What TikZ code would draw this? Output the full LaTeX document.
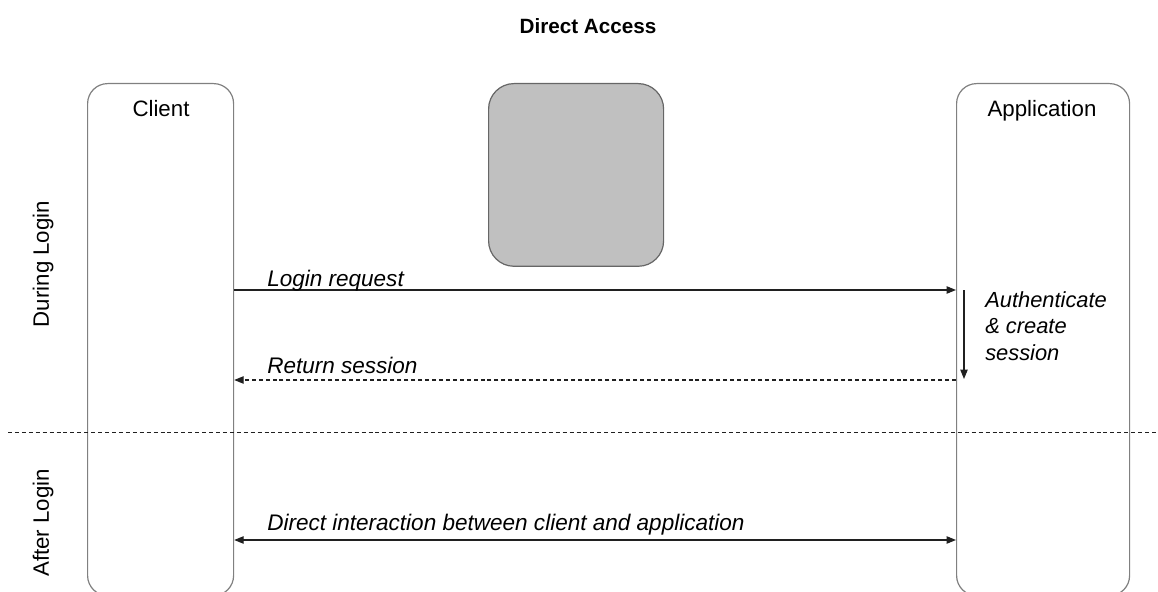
\documentclass[tikz,border=0pt]{standalone}
\usepackage{fontspec}
\setmainfont{Liberation Sans}
\usetikzlibrary{arrows.meta}
\definecolor{lanegray}{HTML}{808080}
\definecolor{boxfill}{HTML}{C0C0C0}
\definecolor{ink}{HTML}{202020}
\tikzset{
  lane/.style={draw=lanegray, line width=0.9pt, rounded corners=15pt, anchor=north west, inner sep=0pt},
  greybox/.style={draw=lanegray!80!black, fill=boxfill, line width=0.9pt, rounded corners=19pt, anchor=north west, inner sep=0pt},
  lbl/.style={font=\fontsize{16.7}{19}\selectfont, text=black},
  msglbl/.style={font=\fontsize{16.9}{20}\selectfont\itshape, text=black, anchor=base west, inner sep=0pt},
  tip/.tip={Triangle[length=7pt,width=5.5pt]},
  msg/.style={draw=ink, line width=0.8pt, -tip},
  dmsg/.style={msg, dash pattern=on 3pt off 2.2pt},
  both/.style={draw=ink, line width=0.8pt, tip-tip},
  sep/.style={draw=ink, line width=0.7pt, dash pattern=on 3pt off 2.2pt}
}
\begin{document}
\begin{tikzpicture}[x=0.75pt,y=-0.75pt]
\clip (0,0) rectangle (1158,592);
\useasboundingbox (0,0) rectangle (1158,592);
% title
\node[font=\fontsize{15.5}{19}\selectfont\bfseries, anchor=base] (title) at (588,34) {Direct Access};
% lanes
\node[lane, minimum width=109.5pt, minimum height=384pt] (client) at (87,83) {};
\node[lane, minimum width=129.75pt, minimum height=384pt] (app) at (956,83) {};
\node[greybox, minimum width=131.25pt, minimum height=137pt] (grey) at (488,83) {};
\node[lbl, anchor=base] (clientlbl) at (161,117) {Client};
\node[lbl, anchor=base] (applbl) at (1042,117) {Application};
% phase labels
\node[lbl, rotate=90] (during) at (43,264) {During Login};
\node[lbl, rotate=90] (after) at (43,523) {After Login};
% separator
\coordinate (sepL) at (8,432);
\coordinate (sepR) at (1158,432);
\draw[sep] (sepL) -- (sepR);
% messages
\draw[msg] (client.east |- 0,290) -- (app.west |- 0,290);
\node[msglbl] (loginlbl) at (267,286) {Login request};
\coordinate (authTop) at (964,290);
\coordinate (authBot) at (964,379);
\draw[msg] (authTop) -- (authBot);
\node[msglbl, align=left, anchor=north west, font=\fontsize{16.4}{20}\selectfont\itshape] (authlbl) at (985,291) {Authenticate\\\& create\\session};
\draw[dmsg] (app.west |- 0,380) -- (client.east |- 0,380);
\node[msglbl] (retlbl) at (267,373) {Return session};
\draw[both] (client.east |- 0,540) -- (app.west |- 0,540);
\node[msglbl] (directlbl) at (267,530) {Direct interaction between client and application};
\end{tikzpicture}
\end{document}
